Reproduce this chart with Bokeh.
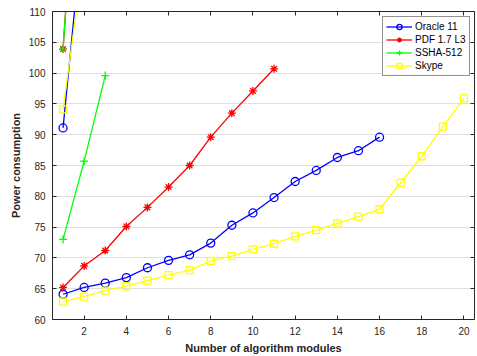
from bokeh.plotting import figure
from bokeh.models import LinearAxis, Range1d, FixedTicker, Legend, LegendItem
from bokeh.embed import file_html
from bokeh.resources import INLINE

# ---- data ----
x_oracle = list(range(1, 17))
oracle = [64.1, 65.2, 65.9, 66.8, 68.4, 69.6, 70.5, 72.4, 75.3, 77.3, 79.8, 82.4, 84.2, 86.3, 87.4, 89.6]
x_pdf = list(range(1, 12))
pdf = [65.2, 68.7, 71.2, 75.1, 78.2, 81.5, 85.0, 89.6, 93.5, 97.1, 100.7]
x_ssha = [1, 2, 3]
ssha = [73.0, 85.7, 99.6]
x_skype = list(range(1, 21))
skype = [62.9, 63.7, 64.7, 65.4, 66.3, 67.2, 68.0, 69.5, 70.3, 71.4, 72.3, 73.5, 74.5, 75.6, 76.7, 77.9, 82.2, 86.5, 91.3, 95.9]

# second (off-scale) runs starting at x = 1
x_extra = [1, 2]
oracle_extra = [91.1, 126.0]
pdf_extra = [103.9, 154.0]
ssha_extra = [103.9, 154.0]
skype_extra = [94.1, 119.3]

labels = ["Oracle 11", "PDF 1.7 L3", "SSHA-512", "Skype"]
colors = ["#0000ff", "#ff0000", "#00ff00", "#ffff00"]
markers = ["circle", "asterisk", "cross", "square"]
x_ticks = list(range(2, 21, 2))
y_ticks = list(range(60, 111, 5))

FONT = "Liberation Sans"
AX = "#262626"

p = figure(frame_width=422, frame_height=308,
           x_range=Range1d(0.5, 20.5), y_range=Range1d(60, 110),
           output_backend="svg", toolbar_location=None,
           min_border_left=52, min_border_top=11, min_border_right=3, min_border_bottom=36)
p.outline_line_color = None

for ax in (p.xaxis[0], p.yaxis[0]):
    ax.major_tick_in = 4
    ax.major_tick_out = 0
    ax.minor_tick_line_color = None
    ax.axis_line_color = AX
    ax.major_tick_line_color = AX
    ax.major_label_text_font = FONT
    ax.major_label_text_font_size = "10px"
    ax.major_label_text_color = AX
    ax.axis_label_text_font = FONT
    ax.axis_label_text_font_size = "11px"
    ax.axis_label_text_font_style = "bold"
    ax.axis_label_text_color = AX
    ax.major_label_standoff = 7
    ax.axis_label_standoff = 4

p.xaxis[0].ticker = FixedTicker(ticks=x_ticks)
p.yaxis[0].ticker = FixedTicker(ticks=y_ticks)
p.xaxis[0].axis_label = "Number of algorithm modules"
p.yaxis[0].axis_label = "Power consumption"

for loc, ticks in (("above", x_ticks), ("right", y_ticks)):
    a = LinearAxis(ticker=FixedTicker(ticks=ticks),
                   major_label_overrides={t: "" for t in ticks},
                   major_tick_in=4, major_tick_out=0, major_label_standoff=0,
                   minor_tick_line_color=None, axis_line_color=AX, major_tick_line_color=AX)
    p.add_layout(a, loc)

p.xgrid.grid_line_color = None
p.ygrid.ticker = FixedTicker(ticks=y_ticks)
p.ygrid.grid_line_color = "#dfdfdf"

series = [(x_oracle, oracle, oracle_extra), (x_pdf, pdf, pdf_extra),
          (x_ssha, ssha, ssha_extra), (x_skype, skype, skype_extra)]
items = []
for (xs, ys, ex), lab, col, mk in zip(series, labels, colors, markers):
    sz = 8 if mk != "square" else 7
    r1 = p.line(xs, ys, line_color=col, line_width=1.3)
    r2 = p.scatter(xs, ys, marker=mk, size=sz, line_color=col, fill_color=None, line_width=1.3)
    p.line(x_extra, ex, line_color=col, line_width=1.3)
    p.scatter(x_extra, ex, marker=mk, size=sz, line_color=col, fill_color=None, line_width=1.3)
    items.append(LegendItem(label=lab, renderers=[r1, r2]))

legend = Legend(items=items, location=(330, 243))
legend.border_line_color = AX
legend.border_line_width = 1
legend.label_text_font = FONT
legend.label_text_font_size = "10px"
legend.label_text_color = "#000000"
legend.glyph_width = 26
legend.glyph_height = 13
legend.label_height = 13
legend.spacing = 0
legend.padding = 3
legend.margin = 0
legend.label_standoff = 3
p.add_layout(legend)

open("out.html", "w").write(file_html(p, INLINE))
